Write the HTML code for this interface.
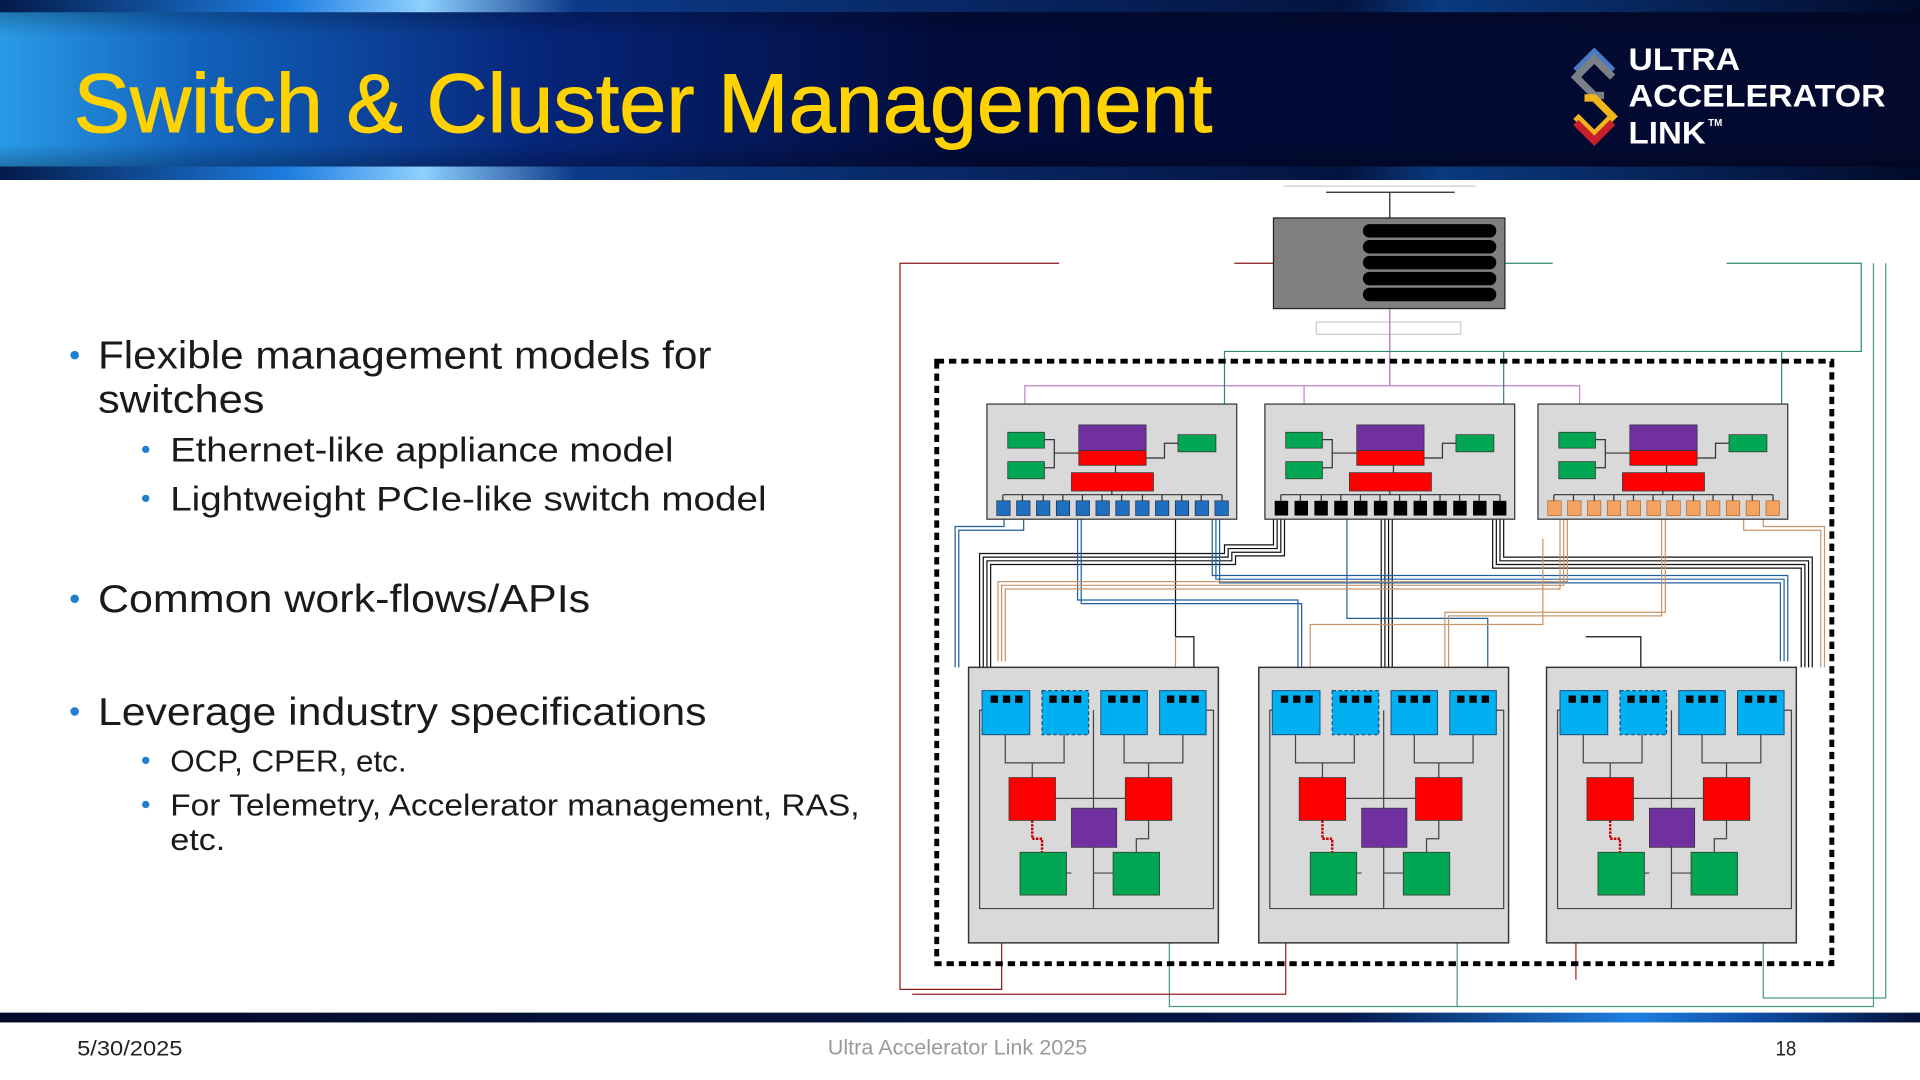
<!DOCTYPE html>
<html><head><meta charset="utf-8"><style>
html,body{margin:0;padding:0;background:#fff;}
svg{display:block;}
</style></head><body>
<svg width="1920" height="1080" viewBox="0 0 1568 882" preserveAspectRatio="none" xmlns="http://www.w3.org/2000/svg" xmlns:xlink="http://www.w3.org/1999/xlink">
<defs>
<linearGradient id="hdr" x1="0" y1="0" x2="1" y2="0">
<stop offset="0" stop-color="#2a9be6"/><stop offset="0.1" stop-color="#1262bb"/><stop offset="0.28" stop-color="#06257a"/><stop offset="0.5" stop-color="#020b3a"/><stop offset="1" stop-color="#030a2e"/>
</linearGradient>
<linearGradient id="vshade" x1="0" y1="0" x2="0" y2="1">
<stop offset="0" stop-color="#000" stop-opacity="0.35"/><stop offset="0.2" stop-color="#000" stop-opacity="0"/><stop offset="0.8" stop-color="#000" stop-opacity="0"/><stop offset="1" stop-color="#000" stop-opacity="0.4"/>
</linearGradient>
<linearGradient id="strip" x1="0" y1="0" x2="1" y2="0">
<stop offset="0" stop-color="#031a4a"/><stop offset="0.15" stop-color="#1e7de0"/><stop offset="0.22" stop-color="#8fd0ff"/><stop offset="0.3" stop-color="#0c3a88"/><stop offset="0.7" stop-color="#041440"/><stop offset="0.75" stop-color="#0a3a80"/><stop offset="1" stop-color="#020a2a"/>
</linearGradient>
<linearGradient id="foot" x1="0" y1="0" x2="1" y2="0">
<stop offset="0" stop-color="#020a2a"/><stop offset="0.7" stop-color="#04184a"/><stop offset="0.85" stop-color="#1f7fe0"/><stop offset="0.92" stop-color="#0d4aa0"/><stop offset="1" stop-color="#031038"/>
</linearGradient>
<g id="ports"><rect x="8" y="79" width="11" height="12"/><rect x="24.2" y="79" width="11" height="12"/><rect x="40.4" y="79" width="11" height="12"/><rect x="56.6" y="79" width="11" height="12"/><rect x="72.8" y="79" width="11" height="12"/><rect x="89" y="79" width="11" height="12"/><rect x="105.2" y="79" width="11" height="12"/><rect x="121.4" y="79" width="11" height="12"/><rect x="137.6" y="79" width="11" height="12"/><rect x="153.8" y="79" width="11" height="12"/><rect x="170" y="79" width="11" height="12"/><rect x="186.2" y="79" width="11" height="12"/></g>
<g id="sw">
<rect x="0" y="0" width="204" height="94" fill="#d9d9d9" stroke="#333" stroke-width="1"/>
<g fill="none" stroke="#333" stroke-width="1">
<path d="M47 29 H55 V52 H47 M55 40 H75 M105 50 V56 M130 44 H145 V32 H156 M102 71 V74 M13 74 H192 M13 74 V79 M29 74 V79 M46 74 V79 M62 74 V79 M78 74 V79 M94 74 V79 M110 74 V79 M127 74 V79 M143 74 V79 M159 74 V79 M175 74 V79 M192 74 V79"/>
</g>
<rect x="17" y="23" width="30" height="13" fill="#00a651" stroke="#333" stroke-width="0.6"/>
<rect x="17" y="47" width="30" height="14" fill="#00a651" stroke="#333" stroke-width="0.6"/>
<rect x="75" y="17" width="55" height="21" fill="#7030a0" stroke="#333" stroke-width="0.6"/>
<rect x="75" y="38" width="55" height="12" fill="#ff0000" stroke="#333" stroke-width="0.6"/>
<rect x="69" y="56" width="67" height="15" fill="#ff0000" stroke="#333" stroke-width="0.6"/>
<rect x="156" y="25" width="31" height="14" fill="#00a651" stroke="#333" stroke-width="0.6"/>
</g>
<g id="bk"><rect x="0" y="0" width="6" height="6" fill="#000"/><rect x="10" y="0" width="6" height="6" fill="#000"/><rect x="20" y="0" width="6" height="6" fill="#000"/></g>
<g id="node">
<rect x="0" y="0" width="204" height="225" fill="#d9d9d9" stroke="#333" stroke-width="1.2"/>
<g fill="none" stroke="#444" stroke-width="1">
<path d="M11 35 H9 V197 H200 V35 H194 M30 55 V78 H78 V55 M52 78 V90 M127 55 V78 H175 V55 M147 78 V90 M102 35 V197 M71 107 H128 M137 151 V140 H147 V125 M80 168 H84 M118 168 H102"/>
</g>
<path d="M52 125 V140 H60 V151" fill="none" stroke="#c00" stroke-width="2" stroke-dasharray="2 1"/>
<rect x="11" y="19" width="39" height="36" fill="#00b0f0" stroke="#1f4e79" stroke-width="0.8"/>
<rect x="60" y="19" width="38" height="36" fill="#00b0f0" stroke="#1f4e79" stroke-width="1" stroke-dasharray="3 2"/>
<rect x="108" y="19" width="38" height="36" fill="#00b0f0" stroke="#1f4e79" stroke-width="0.8"/>
<rect x="156" y="19" width="38" height="36" fill="#00b0f0" stroke="#1f4e79" stroke-width="0.8"/>
<use xlink:href="#bk" x="18" y="23"/><use xlink:href="#bk" x="66" y="23"/><use xlink:href="#bk" x="114" y="23"/><use xlink:href="#bk" x="162" y="23"/>
<rect x="33" y="90" width="38" height="35" fill="#ff0000" stroke="#333" stroke-width="0.6"/>
<rect x="128" y="90" width="38" height="35" fill="#ff0000" stroke="#333" stroke-width="0.6"/>
<rect x="84" y="115" width="37" height="32" fill="#7030a0" stroke="#333" stroke-width="0.6"/>
<rect x="42" y="151" width="38" height="35" fill="#00a651" stroke="#333" stroke-width="0.6"/>
<rect x="118" y="151" width="38" height="35" fill="#00a651" stroke="#333" stroke-width="0.6"/>
</g>
</defs>

<!-- header -->
<rect x="0" y="0" width="1568" height="147" fill="url(#hdr)"/>
<rect x="0" y="0" width="1568" height="147" fill="url(#vshade)"/>
<rect x="0" y="0" width="1568" height="10" fill="url(#strip)"/>
<rect x="0" y="136" width="1568" height="11" fill="url(#strip)"/>
<text x="60" y="108" font-family="Liberation Sans, sans-serif" font-size="68" fill="#ffd200" stroke="#ffd200" stroke-width="0.8" textLength="930" lengthAdjust="spacingAndGlyphs">Switch &amp; Cluster Management</text>
<!-- logo -->
<g fill="none" stroke-width="6" stroke-linejoin="miter">
<path d="M1287 58 L1302 43 L1317 58" stroke="#4a7cc4"/>
<path d="M1317 63 L1302 48 L1287 63 L1302 78 L1310 78" stroke="#7a7f88"/>
<path d="M1294 80 L1302 80 L1317 95 L1302 110 L1287 95" stroke="#f3b51c"/>
<path d="M1287 100 L1302 115 L1317 100" stroke="#c8202a"/>
</g>
<g font-family="Liberation Sans, sans-serif" font-weight="bold" fill="#fff">
<text x="1330" y="57" font-size="26" textLength="91" lengthAdjust="spacingAndGlyphs">ULTRA</text>
<text x="1330" y="87" font-size="26" textLength="210" lengthAdjust="spacingAndGlyphs">ACCELERATOR</text>
<text x="1330" y="117" font-size="26" textLength="63" lengthAdjust="spacingAndGlyphs">LINK</text>
<text x="1395" y="103" font-size="8">TM</text>
</g>

<!-- bullets -->
<g font-family="Liberation Sans, sans-serif" fill="#1a1a1a">
<text x="80" y="301" font-size="32" textLength="501" lengthAdjust="spacingAndGlyphs">Flexible management models for</text>
<text x="80" y="337" font-size="32" textLength="136" lengthAdjust="spacingAndGlyphs">switches</text>
<text x="139" y="377" font-size="28" textLength="411" lengthAdjust="spacingAndGlyphs">Ethernet-like appliance model</text>
<text x="139" y="417" font-size="28" textLength="487" lengthAdjust="spacingAndGlyphs">Lightweight PCIe-like switch model</text>
<text x="80" y="500" font-size="32" textLength="402" lengthAdjust="spacingAndGlyphs">Common work-flows/APIs</text>
<text x="80" y="592" font-size="32" textLength="497" lengthAdjust="spacingAndGlyphs">Leverage industry specifications</text>
<text x="139" y="630" font-size="25" textLength="193" lengthAdjust="spacingAndGlyphs">OCP, CPER, etc.</text>
<text x="139" y="666" font-size="25" textLength="563" lengthAdjust="spacingAndGlyphs">For Telemetry, Accelerator management, RAS,</text>
<text x="139" y="694" font-size="25" textLength="45" lengthAdjust="spacingAndGlyphs">etc.</text>
</g>
<g fill="#1e7fd0">
<circle cx="61" cy="290" r="3.5"/><circle cx="61" cy="489" r="3.5"/><circle cx="61" cy="581" r="3.5"/>
<circle cx="119" cy="367" r="3"/><circle cx="119" cy="407" r="3"/><circle cx="119" cy="621" r="3"/><circle cx="119" cy="657" r="3"/>
</g>

<!-- diagram top -->
<g fill="none" stroke-width="1">
<path d="M1048 152 H1205" stroke="#ccc"/>
<path d="M1083 157 H1188 M1135 157 V178" stroke="#222"/>
<rect x="1075" y="263" width="118" height="10" stroke="#ccc"/>
<path d="M1135 252 V315" stroke="#b070c0"/>
<path d="M837 353 V315 H1290 V353 M1065 315 V353" stroke="#c080d0"/>
<path d="M993 362 H1000 V287 H1520 V215 H1410 M1222 362 H1228 V287 M1448 362 H1455 V287 M1229 215 H1268" stroke="#2e8b6e"/>
<path d="M865 215 H735 V808 H818 V720 H835 M1040 215 H1008" stroke="#8b1a1a"/>
<path d="M1530 215 V822 H955 V740 M1190 822 V745 M1540 215 V815 H1440 V740" stroke="#4a9a80"/>
<path d="M745 812 H1050 V720 H1068 M1287 800 V720 H1305" stroke="#9b2222"/>
</g>
<rect x="1040" y="178" width="189" height="74" fill="#808080" stroke="#222" stroke-width="1"/>
<g fill="#000">
<rect x="1113" y="183" width="109" height="11" rx="5.5"/><rect x="1113" y="196" width="109" height="11" rx="5.5"/><rect x="1113" y="209" width="109" height="11" rx="5.5"/><rect x="1113" y="222" width="109" height="11" rx="5.5"/><rect x="1113" y="235" width="109" height="11" rx="5.5"/>
</g>

<!-- dashed boundary -->
<rect x="765" y="295" width="731" height="492" fill="none" stroke="#000" stroke-width="4" stroke-dasharray="6 4"/>

<!-- cables -->
<g fill="none" stroke-width="1">
<g stroke="#111">
<path d="M1040 424 V445 H1000 V452 H800 V545"/><path d="M1043 424 V448 H1003 V455 H803 V545"/><path d="M1046 424 V451 H1006 V458 H806 V545"/><path d="M1049 424 V454 H1009 V461 H809 V545"/>
<path d="M1128 424 V545 M1131 424 V545 M1134 424 V545 M1137 424 V545"/>
<path d="M1228 424 V455 H1480 V545"/><path d="M1225 424 V458 H1477 V545"/><path d="M1222 424 V461 H1474 V545"/><path d="M1219 424 V464 H1471 V545"/>
<path d="M960 424 V520 H975 V545 M1295 520 H1340 V545"/>
</g>
<g stroke="#1f5f9f">
<path d="M820 424 V430 H780 V545"/><path d="M836 424 V433 H783 V545"/>
<path d="M990 424 V470 H1460 V540"/><path d="M993 424 V473 H1457 V540"/><path d="M996 424 V476 H1454 V540"/>
<path d="M880 424 V490 H1060 V545"/><path d="M883 424 V493 H1063 V545"/>
<path d="M1100 424 V505 H1215 V545"/>
</g>
<g stroke="#c8956a">
<path d="M1440 424 V430 H1490 V545"/><path d="M1424 424 V433 H1487 V545"/>
<path d="M1280 424 V475 H815 V540"/><path d="M1277 424 V478 H818 V540"/><path d="M1274 424 V481 H821 V540"/>
<path d="M1360 424 V500 H1180 V545"/><path d="M1357 424 V503 H1183 V545"/>
<path d="M1260 440 V510 H1070 V545 M960 520 V545"/>
</g>
</g>

<!-- switches -->
<use xlink:href="#sw" x="806" y="330"/>
<use xlink:href="#ports" x="806" y="330" fill="#1f6fc0" stroke="#123" stroke-width="0.5"/>
<use xlink:href="#sw" x="1033" y="330"/>
<use xlink:href="#ports" x="1033" y="330" fill="#000"/>
<use xlink:href="#sw" x="1256" y="330"/>
<use xlink:href="#ports" x="1256" y="330" fill="#f4a460" stroke="#a05a20" stroke-width="0.5"/>

<!-- nodes -->
<use xlink:href="#node" x="791" y="545"/>
<use xlink:href="#node" x="1028" y="545"/>
<use xlink:href="#node" x="1263" y="545"/>

<!-- footer -->
<rect x="0" y="827" width="1568" height="8" fill="url(#foot)"/>
<g font-family="Liberation Sans, sans-serif" font-size="17">
<text x="63" y="862" fill="#222" textLength="86" lengthAdjust="spacingAndGlyphs">5/30/2025</text>
<text x="676" y="861" fill="#9a9a9a" textLength="212" lengthAdjust="spacingAndGlyphs">Ultra Accelerator Link 2025</text>
<text x="1450" y="862" fill="#222" textLength="17" lengthAdjust="spacingAndGlyphs">18</text>
</g>
</svg>
</body></html>
